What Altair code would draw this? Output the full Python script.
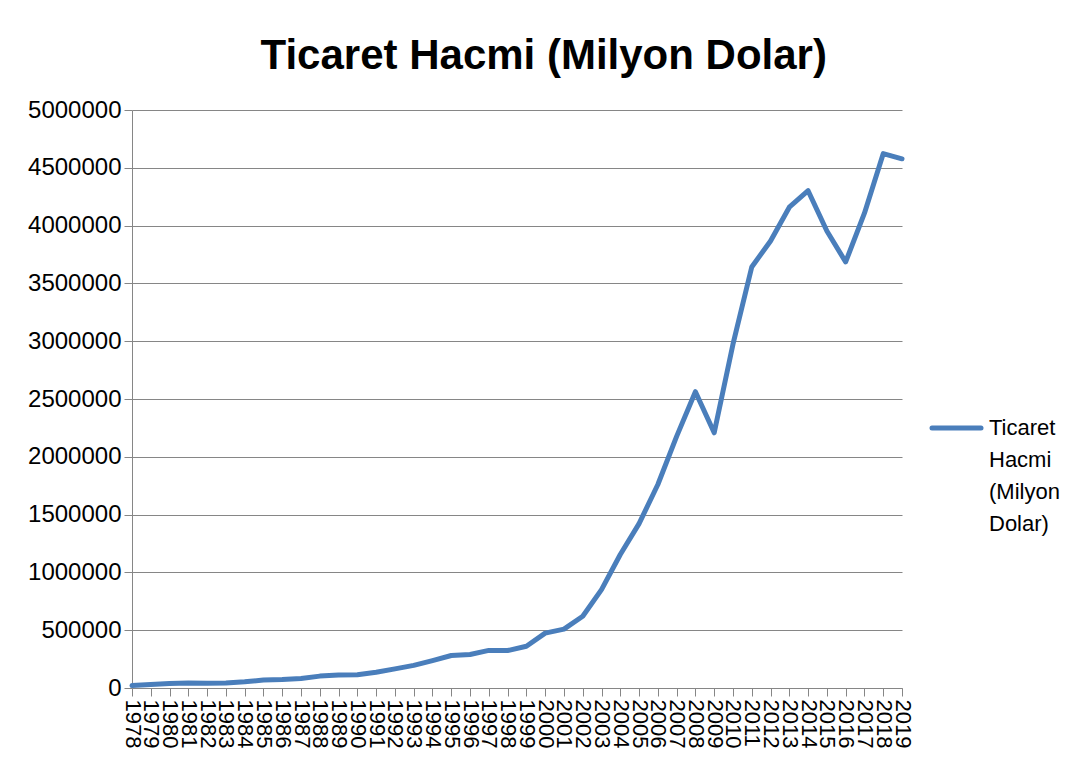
import altair as alt
import pandas as pd

years = ["1978", "1979", "1980", "1981", "1982", "1983", "1984", "1985", "1986", "1987",
         "1988", "1989", "1990", "1991", "1992", "1993", "1994", "1995", "1996", "1997",
         "1998", "1999", "2000", "2001", "2002", "2003", "2004", "2005", "2006", "2007",
         "2008", "2009", "2010", "2011", "2012", "2013", "2014", "2015", "2016", "2017",
         "2018", "2019"]
values = [20640, 29330, 38140, 44030, 41610, 43620, 53550, 69600, 73850, 82650,
          102790, 111680, 115440, 135630, 165530, 195700, 236620, 280860, 289880, 325160,
          323950, 360630, 474290, 509650, 620770, 850990, 1154550, 1421910, 1760440, 2176570,
          2563260, 2207540, 2974000, 3641860, 3867120, 4158990, 4301530, 3953030, 3685560, 4107140,
          4622440, 4577890]
series_name = "Ticaret Hacmi (Milyon Dolar)"
y_ticks = [0, 500000, 1000000, 1500000, 2000000, 2500000, 3000000, 3500000, 4000000, 4500000, 5000000]

df = pd.DataFrame({"Yil": years, "Deger": values, "Seri": [series_name] * len(years)})
legend_df = pd.DataFrame({"Seri": [series_name]})

FONT = "Liberation Sans"
GRAY = "#868686"
BLUE = "#4A7EBB"

line = alt.Chart(df).mark_line(strokeWidth=5, strokeJoin="round", strokeCap="round", color=BLUE).encode(
    x=alt.X("Yil:O", sort=None, scale=alt.Scale(type="point", padding=0),
            axis=alt.Axis(title=None, labelAngle=90, labelAlign="left", labelBaseline="middle",
                          labelFontSize=22, labelFont=FONT, labelColor="black",
                          labelOverlap=False, labelBound=False, labelPadding=3,
                          tickSize=8, tickColor=GRAY, domainColor=GRAY, grid=False)),
    y=alt.Y("Deger:Q", scale=alt.Scale(domain=[0, 5000000], nice=False),
            axis=alt.Axis(title=None, values=y_ticks, format="d", labelFontSize=24,
                          labelFont=FONT, labelColor="black", labelPadding=3,
                          tickSize=8, tickColor=GRAY, domainColor=GRAY,
                          grid=True, gridColor=GRAY, gridWidth=1)),
)

legend_sym = alt.Chart(legend_df).mark_rule(strokeWidth=5, strokeCap="round", color=BLUE).encode(
    x=alt.value(800), x2=alt.value(849), y=alt.value(318)
)
legend_txt = alt.Chart(legend_df).mark_text(
    align="left", baseline="middle", lineBreak=" ", lineHeight=32,
    fontSize=22, font=FONT, color="black"
).encode(x=alt.value(857), y=alt.value(318), text="Seri:N")

chart = alt.layer(line, legend_sym, legend_txt).properties(
    width=770,
    height=578,
    title=alt.TitleParams(series_name, fontSize=42, font=FONT, fontWeight="bold",
                          color="black", anchor="middle", frame="bounds", offset=20),
    padding={"left": 19, "top": 27, "right": 0, "bottom": 0},
).configure_view(stroke=None)

chart.save("out.html", embed_options={"renderer": "svg", "actions": False})
